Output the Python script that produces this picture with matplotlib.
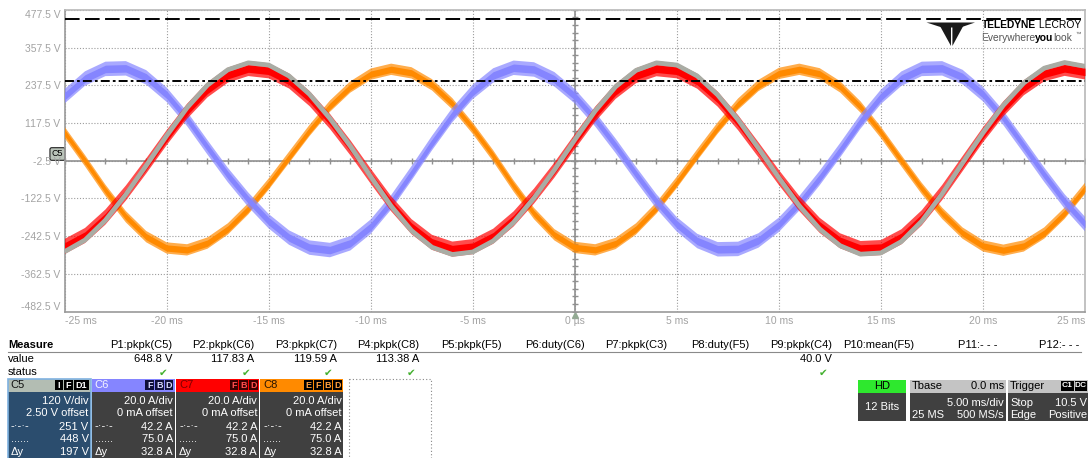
import numpy as np
import matplotlib.pyplot as plt
from matplotlib.patches import Rectangle, Polygon

plt.rcParams['font.family'] = ['Liberation Sans', 'DejaVu Sans']

# acquisition time base, one reading per ms
t_ms = np.arange(-25, 26)

# C5 line voltage (V)
c5_volts = [-292, -255, -192, -110, -18, 77, 166, 238, 287, 309,
            302, 267, 209, 132, 44, -53, -147, -225, -278, -301,
            -293, -258, -199, -121, -32, 64, 156, 233, 285, 309,
            302, 267, 207, 128, 37, -57, -146, -220, -273, -300,
            -296, -260, -195, -108, -10, 86, 174, 245, 292, 310,
            298]
# C6 / C7 / C8 phase currents (A)
c6_amps = [34.2, 43.6, 48.7, 49.0, 44.2, 35.0, 22.2, 7.1, -7.6, -20.7,
           -32.1, -40.8, -46.1, -47.4, -43.8, -35.0, -22.1, -6.7, 9.3, 24.2,
           36.5, 45.2, 49.3, 48.4, 43.2, 34.2, 22.0, 7.9, -7.1, -21.6,
           -33.8, -42.6, -47.0, -46.8, -42.3, -34.0, -22.6, -9.2, 5.5, 20.8,
           33.9, 43.5, 48.7, 49.0, 44.4, 35.3, 22.7, 7.8, -7.4, -21.6,
           -33.6]
c7_amps = [-45.5, -39.7, -29.9, -17.2, -2.8, 12.2, 26.2, 37.6, 45.4, 48.9,
           47.7, 42.3, 33.0, 20.9, 6.9, -8.2, -22.8, -35.0, -43.3, -46.9,
           -45.6, -40.1, -30.9, -18.8, -5.0, 10.1, 24.7, 36.8, 45.1, 48.8,
           47.7, 42.2, 32.7, 20.2, 5.8, -8.9, -22.7, -34.3, -42.5, -46.6,
           -46.1, -40.4, -30.3, -16.9, -1.6, 13.7, 27.5, 38.7, 46.1, 49.0,
           47.1]
c8_amps = [15.0, 0.0, -15.7, -29.7, -40.3, -46.3, -47.3, -43.7, -36.2, -25.5,
           -12.4, 1.8, 16.0, 28.9, 39.1, 45.9, 48.5, 46.6, 40.3, 30.2,
           17.2, 2.6, -13.4, -28.0, -39.3, -46.0, -47.3, -43.9, -36.2, -25.1,
           -11.5, 3.1, 17.3, 30.0, 39.9, 46.3, 48.5, 46.1, 39.2, 28.5,
           15.0, 0.0, -14.7, -27.9, -38.4, -45.2, -47.5, -45.2, -38.4, -27.9,
           -14.7]

# vertical setup and cursors
c5_v_div = 120.0
c5_offset = 2.5
amp_div = 20.0
cursor_dash = 447.5
cursor_dashdot = 250.7

y_ticks = [477.5, 357.5, 237.5, 117.5, -2.5, -122.5, -242.5, -362.5, -482.5]
x_ticks = [-25, -20, -15, -10, -5, 0, 5, 10, 15, 20, 25]
x_labels = ['-25 ms', '-20 ms', '-15 ms', '-10 ms', '-5 ms', '0 µs',
            '5 ms', '10 ms', '15 ms', '20 ms', '25 ms']

meas_headers = ['P1:pkpk(C5)', 'P2:pkpk(C6)', 'P3:pkpk(C7)', 'P4:pkpk(C8)',
                'P5:pkpk(F5)', 'P6:duty(C6)', 'P7:pkpk(C3)', 'P8:duty(F5)',
                'P9:pkpk(C4)', 'P10:mean(F5)', 'P11:- - -', 'P12:- - -']
meas_values = ['648.8 V', '117.83 A', '119.59 A', '113.38 A', '', '', '', '',
               '40.0 V', '', '', '']
meas_ok = [True, True, True, True, False, False, False, False,
           True, False, False, False]

col_c5 = '#a9aca4'
col_c6 = '#8585ff'
col_c7 = '#ff0000'
col_c8 = '#ff8a00'


def to_screen(amps):
    # current channels share the C5 grid: 20 A/div against 120 V/div
    return np.asarray(amps) * c5_v_div / amp_div - c5_offset


W, H = 1088, 458
fig = plt.figure(figsize=(W / 100, H / 100), dpi=100)
ui = fig.add_axes([0, 0, 1, 1])
ui.set_xlim(0, W)
ui.set_ylim(H, 0)
ui.axis('off')
renderer = fig.canvas.get_renderer()


def text_run(x, y, parts, **kw):
    # consecutive pieces of text with their own styles, left to right
    for s, extra in parts:
        t = ui.text(x, y, s, va='center', ha='left', **kw, **extra)
        x += t.get_window_extent(renderer).width


left, right, top, bottom = 64.6, 1085, 9.9, 311.5
ax = fig.add_axes([left / W, 1 - bottom / H, (right - left) / W, (bottom - top) / H])
ax.set_facecolor('none')
ax.set_xlim(-25, 25)
ax.set_ylim(-482.5, 477.5)

# grid and centre cross
ax.set_xticks(x_ticks)
ax.set_yticks(y_ticks)
ax.set_xticklabels(x_labels)
ax.set_yticklabels([f'{v:.1f} V' for v in y_ticks])
ax.grid(True, color='#9c9c9c', lw=0.8, ls=(0, (1, 1.6)))
ax.set_axisbelow(True)
ax.tick_params(length=0, labelsize=7.5, labelcolor='#a3a3a3', pad=3)
ylab = ax.get_yticklabels()
ylab[0].set_va('top')
ylab[-1].set_va('bottom')
xlab = ax.get_xticklabels()
xlab[0].set_ha('left')
xlab[-1].set_ha('right')
for s in ax.spines.values():
    s.set_color('#b8b8b8')
    s.set_linewidth(1.2)
ax.spines['left'].set_color('#9a9a9a')
ax.spines['bottom'].set_color('#9a9a9a')

ax.axhline(-c5_offset, color='#909090', lw=1.2, zorder=1)
ax.axvline(0, color='#909090', lw=1.2, zorder=1)
ax.plot(np.arange(-25, 26), np.full(51, -c5_offset), ls='none', marker='|',
        ms=5, mew=1, color='#909090', zorder=1)
ax.plot(np.zeros(41), np.linspace(-482.5, 477.5, 41), ls='none', marker='_',
        ms=5, mew=1, color='#909090', zorder=1)

# traces: noisy current channels drawn as a dense core with a lighter fringe
for amps, col, core, fringe in [(c8_amps, col_c8, 10, 18),
                                (c6_amps, col_c6, 12, 23),
                                (c7_amps, col_c7, 12, 24)]:
    y = to_screen(amps)
    ax.fill_between(t_ms, y - fringe, y + fringe, facecolor=col, alpha=0.7,
                    lw=0, zorder=3)
    ax.fill_between(t_ms, y - core, y + core, color=col, lw=0, zorder=3)
    ax.plot(t_ms, y, color=col, lw=1.2, zorder=3)
ax.plot(t_ms, c5_volts, color=col_c5, lw=3.4, zorder=4, solid_capstyle='butt')

# cursors
ax.axhline(cursor_dash, color='black', lw=1.4, dashes=(7.5, 2.8), zorder=5)
ax.axhline(cursor_dashdot, color='black', lw=1.4, dashes=(4.6, 1.6, 1.4, 1.6), zorder=5)

# channel tag and trigger marker
ui.text(57.5, 154, 'C5', fontsize=6.5, ha='center', va='center',
        bbox=dict(boxstyle='round,pad=0.2', fc='#b9c3b9', ec='#222222', lw=0.8))
ui.plot(575, 314.5, marker='^', ms=5, color='#93aa93')

# logo
ui.add_patch(Polygon([(926.5, 22.5), (975, 22.5), (960.5, 27.5), (942, 27.5)], fc='#1a1a1a', ec='none'))
ui.add_patch(Polygon([(939.5, 25.5), (950.6, 25.5), (950.6, 46)], fc='#1a1a1a', ec='none'))
ui.add_patch(Polygon([(952.4, 25.5), (963.5, 25.5), (952.4, 46)], fc='#1a1a1a', ec='none'))
text_run(981.5, 25, [('TELEDYNE', dict(fontweight='bold')), (' LECROY', {})], fontsize=7.4)
text_run(981, 38, [('Everywhere', dict(color='#555555')), ('you', dict(fontweight='bold')),
                   ('look', dict(color='#555555'))], fontsize=7.4)
ui.text(1075, 34.5, '™', fontsize=4, va='center', ha='left', color='#555555')

# measurement table
fs = 8
ui.text(8, 345, 'Measure', fontsize=fs, fontweight='bold', va='center')
ui.text(8, 359, 'value', fontsize=fs, va='center')
ui.text(8, 372, 'status', fontsize=fs, va='center')
ui.plot([8, 1081], [352, 352], color='#8a8a8a', lw=0.8)
for i, (h, v, ok) in enumerate(zip(meas_headers, meas_values, meas_ok)):
    x = 172 + 82.5 * i
    ui.text(x, 345, h, fontsize=fs, ha='right', va='center')
    if v:
        ui.text(x, 359, v, fontsize=fs, ha='right', va='center')
    if ok:
        ui.text(x - 4, 372.5, '✔', fontsize=7.5, ha='right', va='center',
                color='#44b030', family='DejaVu Sans')

# channel descriptor boxes
amp_dash = (cursor_dashdot + c5_offset) * amp_div / c5_v_div
amp_dot = (cursor_dash + c5_offset) * amp_div / c5_v_div
c5_rows = [f'{c5_v_div:.0f} V/div', f'{c5_offset:.2f} V offset',
           f'{cursor_dashdot:.0f} V', f'{cursor_dash:.0f} V',
           f'{cursor_dash - cursor_dashdot:.0f} V']
amp_rows = [f'{amp_div:.1f} A/div', '0 mA offset', f'{amp_dash:.1f} A',
            f'{amp_dot:.1f} A', f'{amp_dot - amp_dash:.1f} A']
channels = [
    ('C5', '#b3bdb3', '#111111', ['I', 'F', 'D1'], '#000000', '#ffffff', '#2b4d6e', c5_rows),
    ('C6', col_c6, '#f4f4ff', ['F', 'B', 'D'], '#10103a', '#d8d8ff', '#404040', amp_rows),
    ('C7', col_c7, '#7a0000', ['F', 'B', 'D'], '#3a0000', '#ff5050', '#404040', amp_rows),
    ('C8', col_c8, '#2a1500', ['E', 'F', 'B', 'D'], '#000000', '#ffa040', '#404040', amp_rows),
]
row_y = [400.7, 413.4, 426.6, 439.3, 452.2]
row_tags = [None, None, '-·-·-', '......', 'Δy']
bw = 83
for k, (name, head, name_col, badges, b_bg, b_fg, body, rows) in enumerate(channels):
    x0 = 7.5 + 84.3 * k
    ui.add_patch(Rectangle((x0, 379), bw, 12.5, fc=head, ec='none'))
    ui.add_patch(Rectangle((x0, 391.5), bw, 70, fc=body, ec='none'))
    ui.text(x0 + 3, 385.5, name, fontsize=fs, color=name_col, va='center')
    bx = x0 + bw - 1.5
    for b in reversed(badges):
        bwid = 6.5 * len(b) + 2
        bx -= bwid
        ui.add_patch(Rectangle((bx, 380.3), bwid, 10, fc=b_bg, ec='none'))
        ui.text(bx + bwid / 2, 385.5, b, fontsize=6.5, color=b_fg, ha='center',
                va='center', fontweight='bold')
        bx -= 1.2
    for y, tag, txt in zip(row_y, row_tags, rows):
        ui.text(x0 + bw - 2, y, txt, fontsize=fs, color='white', ha='right', va='center')
        if tag:
            ui.text(x0 + 3, y, tag, fontsize=fs, color='white', ha='left', va='center')
    if name == 'C5':
        ui.add_patch(Rectangle((x0, 379), bw, 80, fill=False, ec='#7fb2e0', lw=1.2))
ui.add_patch(Rectangle((348.7, 379), 82.5, 80, fill=False, ec='#888888', lw=0.8, ls=(0, (1, 2))))

# acquisition status boxes
ui.add_patch(Rectangle((858, 380), 48, 12.5, fc='#2ee82e', ec='none'))
ui.add_patch(Rectangle((858, 392.5), 48, 28.3, fc='#404040', ec='none'))
ui.text(882, 386.2, 'HD', fontsize=fs, ha='center', va='center')
ui.text(882, 406.5, '12 Bits', fontsize=fs, ha='center', va='center', color='white')

ui.add_patch(Rectangle((909.5, 380), 96, 12.5, fc='#c4c4c4', ec='none'))
ui.add_patch(Rectangle((909.5, 392.5), 96, 28.3, fc='#404040', ec='none'))
ui.text(912, 386.2, 'Tbase', fontsize=fs, va='center')
ui.text(1004, 386.2, '0.0 ms', fontsize=fs, va='center', ha='right')
ui.text(1004, 402.5, '5.00 ms/div', fontsize=fs, va='center', ha='right', color='white')
ui.text(912, 415.5, '25 MS', fontsize=fs, va='center', color='white')
ui.text(1004, 415.5, '500 MS/s', fontsize=fs, va='center', ha='right', color='white')

ui.add_patch(Rectangle((1007.5, 380), 81, 12.5, fc='#c4c4c4', ec='none'))
ui.add_patch(Rectangle((1007.5, 392.5), 81, 28.3, fc='#404040', ec='none'))
ui.text(1010, 386.2, 'Trigger', fontsize=fs, va='center')
for bx, b in [(1061, 'C1'), (1074.5, 'DC')]:
    ui.add_patch(Rectangle((bx, 380.8), 12.5, 10, fc='black', ec='none'))
    ui.text(bx + 6.25, 385.8, b, fontsize=6, color='white', ha='center', va='center',
            fontweight='bold')
ui.text(1010, 402.5, 'Stop', fontsize=fs, va='center', color='white')
ui.text(1087, 402.5, '10.5 V', fontsize=fs, va='center', ha='right', color='white')
ui.text(1010, 415.5, 'Edge', fontsize=fs, va='center', color='white')
ui.text(1087, 415.5, 'Positive', fontsize=fs, va='center', ha='right', color='white')

fig.savefig('out.png', dpi=100)
